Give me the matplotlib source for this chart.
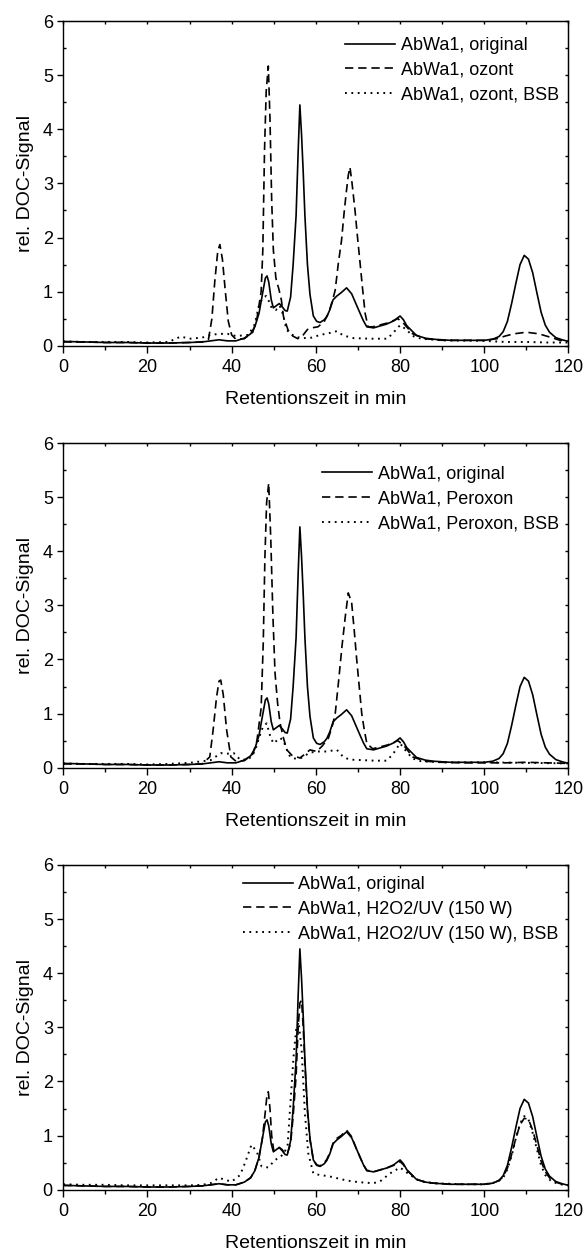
import matplotlib
matplotlib.use('Agg')
import matplotlib.pyplot as plt
from matplotlib.ticker import MultipleLocator

plt.rcParams['font.family'] = ['Liberation Sans', 'DejaVu Sans']
plt.rcParams['lines.scale_dashes'] = False

# Originalprobe (in allen drei Diagrammen gleich)
x_orig = [0, 5, 10, 15, 20, 25, 30, 33, 35, 37, 39, 41, 43, 44.5, 45.5, 46.5, 47.3, 48.0, 48.4,
          48.8, 49.4, 49.9, 50.6, 51.3, 52.0, 52.7, 53.2, 54.0, 54.6, 55.3, 55.8, 56.2, 56.6,
          57.0, 57.4, 58.0, 58.6, 59.4, 60.2, 61.0, 62.0, 62.6, 63.3, 64.1, 65.0, 66.0, 67.3,
          68.5, 69.5, 70.5, 71.3, 72.1, 73.7, 75, 76.8, 78.5, 80.0, 80.8, 81.6, 83.9, 86, 88,
          92, 96, 100, 102, 103.5, 104.5, 105.5, 106.5, 107.5, 108.5, 109.5, 110.5, 111.5,
          112.5, 113.5, 114.5, 115.5, 117, 118.5, 120]
y_orig = [0.08, 0.07, 0.06, 0.06, 0.05, 0.05, 0.06, 0.07, 0.09, 0.11, 0.09, 0.09, 0.14, 0.22,
          0.35, 0.6, 0.95, 1.25, 1.29, 1.18, 0.85, 0.7, 0.74, 0.78, 0.72, 0.65, 0.64, 0.9,
          1.5, 2.4, 3.6, 4.45, 3.9, 3.2, 2.4, 1.5, 0.95, 0.55, 0.45, 0.43, 0.48, 0.54, 0.66,
          0.85, 0.92, 0.98, 1.07, 0.96, 0.78, 0.6, 0.46, 0.35, 0.33, 0.36, 0.4, 0.46, 0.55,
          0.48, 0.37, 0.19, 0.14, 0.12, 0.1, 0.1, 0.1, 0.12, 0.17, 0.26, 0.45, 0.78, 1.15, 1.5,
          1.67, 1.6, 1.35, 0.98, 0.62, 0.38, 0.25, 0.15, 0.11, 0.08]

# ozont
x_oz = [0, 5, 10, 15, 20, 25, 30, 33, 34.5, 35.3, 36.0, 36.7, 37.2, 37.8, 38.5, 39.2, 40, 41,
        43, 45, 46, 47.0, 47.4, 47.8, 48.2, 48.7, 49.1, 49.5, 49.9, 50.5, 51.2, 51.8, 52.3,
        53.4, 54.5, 55.7, 57.0, 58.0, 59.0, 60.5, 62.0, 63.0, 64.0, 64.6, 65.3, 66.1, 66.7,
        67.2, 67.7, 68.1, 68.6, 69.3, 69.9, 70.5, 71.1, 71.7, 72.4, 73.5, 75, 77, 79.5, 81,
        83, 86, 90, 95, 100, 103, 105, 107, 110, 113, 116, 118, 120]
y_oz = [0.07, 0.07, 0.06, 0.06, 0.05, 0.05, 0.06, 0.07, 0.12, 0.5, 1.2, 1.75, 1.87, 1.6, 1.0,
        0.45, 0.2, 0.12, 0.13, 0.25, 0.5, 1.0, 1.77, 3.6, 4.7, 5.17, 4.2, 2.7, 1.77, 1.25,
        1.05, 0.85, 0.54, 0.29, 0.18, 0.13, 0.2, 0.3, 0.33, 0.35, 0.45, 0.6, 0.85, 1.03, 1.5,
        1.95, 2.45, 2.82, 3.15, 3.3, 3.0, 2.5, 2.0, 1.53, 1.05, 0.6, 0.35, 0.35, 0.38, 0.42,
        0.5, 0.4, 0.22, 0.13, 0.1, 0.1, 0.1, 0.13, 0.18, 0.22, 0.25, 0.22, 0.15, 0.1, 0.08]

# ozont, BSB
x_oz_bsb = [0, 5, 10, 15, 20, 25, 27.9, 30, 33, 35, 37, 39, 41, 44, 45.5, 46.4, 47.3, 48.2,
            48.7, 49.5, 50.5, 51.4, 52.2, 53.0, 54.0, 55.4, 57, 59, 61, 63, 65, 66.5, 69, 73,
            77, 78.5, 80, 81.5, 83, 85, 90, 100, 105, 110, 115, 120]
y_oz_bsb = [0.08, 0.07, 0.07, 0.07, 0.06, 0.07, 0.17, 0.13, 0.15, 0.2, 0.22, 0.22, 0.18, 0.2,
            0.4, 0.72, 0.88, 0.92, 0.85, 0.7, 0.66, 0.74, 0.58, 0.3, 0.22, 0.16, 0.14, 0.15,
            0.2, 0.23, 0.27, 0.19, 0.14, 0.13, 0.13, 0.25, 0.38, 0.3, 0.18, 0.13, 0.1, 0.09,
            0.07, 0.07, 0.06, 0.06]

# Peroxon
x_per = [0, 5, 10, 15, 20, 25, 30, 33, 34.8, 35.6, 36.4, 37.0, 37.4, 38.0, 38.8, 39.8, 41, 43,
         45, 46, 47.0, 47.5, 47.9, 48.3, 48.8, 49.3, 49.8, 50.3, 50.9, 51.5, 52.3, 53.1, 54.3,
         56.2, 57.4, 58.6, 60.2, 61.5, 63.0, 64.0, 64.6, 65.4, 66.2, 67.0, 67.7, 68.5, 69.1,
         69.7, 70.3, 70.9, 71.5, 72.1, 73.5, 75, 77, 79.5, 81, 83, 86, 90, 95, 100, 105, 110,
         115, 120]
y_per = [0.07, 0.07, 0.06, 0.06, 0.05, 0.05, 0.06, 0.07, 0.2, 0.7, 1.3, 1.6, 1.62, 1.35, 0.7,
         0.2, 0.12, 0.13, 0.25, 0.5, 1.1, 2.3, 3.9, 4.9, 5.26, 4.2, 2.8, 1.75, 1.2, 0.82, 0.55,
         0.33, 0.23, 0.18, 0.25, 0.33, 0.3, 0.4, 0.55, 0.8, 1.0, 1.6, 2.24, 2.8, 3.23, 3.05,
         2.55, 2.0, 1.5, 1.0, 0.7, 0.45, 0.35, 0.38, 0.42, 0.5, 0.4, 0.2, 0.12, 0.1, 0.09,
         0.09, 0.09, 0.1, 0.09, 0.08]

# Peroxon, BSB
x_per_bsb = [0, 5, 10, 15, 20, 25, 30, 33, 35, 36.5, 37.5, 39, 40.5, 42, 44, 45.5, 46.5,
             47.4, 48.3, 49.1, 49.9, 50.7, 51.5, 52.3, 53.0, 53.9, 55, 56.5, 58.6, 60.5, 62.5,
             65.0, 66.5, 68, 71, 74, 76.8, 78.3, 80, 81.5, 83, 85, 90, 100, 110, 120]
y_per_bsb = [0.08, 0.07, 0.07, 0.07, 0.06, 0.07, 0.09, 0.12, 0.14, 0.22, 0.27, 0.26, 0.27,
             0.15, 0.15, 0.3, 0.55, 0.75, 0.82, 0.6, 0.45, 0.5, 0.55, 0.5, 0.35, 0.2, 0.17,
             0.18, 0.28, 0.3, 0.3, 0.33, 0.2, 0.15, 0.14, 0.13, 0.13, 0.25, 0.45, 0.3, 0.17,
             0.12, 0.1, 0.1, 0.09, 0.08]

# H2O2/UV (150 W)
x_uv = [0, 5, 10, 15, 20, 25, 30, 33, 35, 37, 39, 41, 43, 44.5, 45.5, 46.5, 47.3, 48.0, 48.4,
        48.7, 49.1, 49.5, 50.0, 50.6, 51.3, 52.0, 52.7, 53.2, 54.0, 54.6, 55.3, 55.8, 56.2,
        56.6, 57.0, 57.4, 58.0, 58.6, 59.4, 60.2, 61.0, 62.0, 62.6, 63.3, 64.1, 65.0, 66.0,
        67.3, 68.5, 69.5, 70.5, 71.3, 72.1, 73.7, 75, 76.8, 78.5, 80.0, 80.8, 81.6, 83.9, 86,
        88, 92, 96, 100, 102, 103.5, 104.5, 105.5, 106.5, 107.5, 108.5, 109.5, 110.5, 111.5,
        112.5, 113.5, 114.5, 115.5, 117, 118.5, 120]
y_uv = [0.08, 0.07, 0.06, 0.06, 0.05, 0.05, 0.06, 0.07, 0.09, 0.11, 0.09, 0.09, 0.14, 0.22,
        0.35, 0.6, 0.95, 1.45, 1.75, 1.81, 1.5, 1.0, 0.72, 0.72, 0.78, 0.74, 0.66, 0.66, 0.85,
        1.35, 2.1, 3.0, 3.45, 3.5, 3.0, 2.3, 1.45, 0.92, 0.55, 0.46, 0.44, 0.5, 0.56, 0.68,
        0.86, 0.95, 1.0, 1.1, 0.98, 0.78, 0.6, 0.46, 0.36, 0.33, 0.36, 0.4, 0.45, 0.52, 0.46,
        0.36, 0.19, 0.14, 0.12, 0.1, 0.1, 0.1, 0.12, 0.17, 0.24, 0.4, 0.65, 0.95, 1.2, 1.32,
        1.3, 1.1, 0.82, 0.53, 0.33, 0.22, 0.14, 0.1, 0.08]

# H2O2/UV (150 W), BSB
x_uv_bsb = [0, 5, 10, 15, 20, 25, 30, 33, 35, 37, 38.5, 40, 42, 43.2, 44.7, 46.0, 47.1, 48.7,
            50.3, 51.5, 52.5, 53.3, 53.9, 54.7, 55.3, 55.9, 56.6, 57.4, 58.2, 59.4, 61, 63,
            65.7, 67.3, 70, 73.6, 75.2, 77.6, 80.0, 82.4, 84.7, 88, 95, 100, 103, 104.5,
            105.5, 106.5, 107.5, 108.5, 109.5, 110.5, 111.5, 112.5, 113.5, 114.5, 116, 118, 120]
y_uv_bsb = [0.1, 0.09, 0.09, 0.08, 0.08, 0.08, 0.08, 0.09, 0.12, 0.22, 0.18, 0.15, 0.27, 0.5,
            0.83, 0.7, 0.43, 0.41, 0.55, 0.6, 0.68, 0.83, 1.53, 2.46, 2.95, 3.1, 2.6, 1.41,
            0.67, 0.3, 0.27, 0.25, 0.2, 0.17, 0.14, 0.12, 0.15, 0.3, 0.41, 0.27, 0.16, 0.12,
            0.1, 0.1, 0.14, 0.22, 0.38, 0.62, 0.95, 1.22, 1.36, 1.3, 1.05, 0.75, 0.45, 0.27,
            0.15, 0.1, 0.08]

panels = [
    (x_oz, y_oz, 'AbWa1, ozont', x_oz_bsb, y_oz_bsb, 'AbWa1, ozont, BSB', (0.981, 0.951)),
    (x_per, y_per, 'AbWa1, Peroxon', x_per_bsb, y_per_bsb, 'AbWa1, Peroxon, BSB', (0.981, 0.93)),
    (x_uv, y_uv, 'AbWa1, H2O2/UV (150 W)', x_uv_bsb, y_uv_bsb, 'AbWa1, H2O2/UV (150 W), BSB',
     (0.981, 0.966)),
]

fig = plt.figure(figsize=(5.87, 12.6), dpi=100)
unten = [0.7256, 0.3907, 0.0558]
fs_tick = 13
fs_lab = 14

for (xd, yd, lab_d, xp, yp, lab_p, anker), b in zip(panels, unten):
    ax = fig.add_axes([0.1078, b, 0.8606, 0.2577])
    ax.plot(x_orig, y_orig, color='black', lw=1.2, label='AbWa1, original')
    ax.plot(xd, yd, color='black', lw=1.2, dashes=(6, 3.5), label=lab_d)
    ax.plot(xp, yp, color='black', lw=1.4, dashes=(1.3, 3.3), label=lab_p)

    ax.set_xlim(0, 120)
    ax.set_ylim(0, 6)
    ax.xaxis.set_major_locator(MultipleLocator(20))
    ax.xaxis.set_minor_locator(MultipleLocator(10))
    ax.yaxis.set_major_locator(MultipleLocator(1))
    ax.yaxis.set_minor_locator(MultipleLocator(0.5))
    ax.tick_params(axis='x', which='major', direction='out', length=4.8, width=1, pad=4.5,
                   labelsize=fs_tick, top=False)
    ax.tick_params(axis='x', which='minor', direction='out', length=2.8, width=1, top=False)
    ax.tick_params(axis='y', which='major', direction='out', length=4, width=1, pad=3.5,
                   labelsize=fs_tick, right=False)
    ax.tick_params(axis='y', which='minor', direction='in', length=2, width=1, right=False)
    for s in ax.spines.values():
        s.set_linewidth(1)

    # gespiegelte Achsen oben und rechts mit Ticks nach innen
    oben = ax.secondary_xaxis('top')
    oben.xaxis.set_major_locator(MultipleLocator(20))
    oben.xaxis.set_minor_locator(MultipleLocator(10))
    oben.tick_params(which='both', direction='in', length=2, width=1, labeltop=False)
    rechts = ax.secondary_yaxis('right')
    rechts.yaxis.set_major_locator(MultipleLocator(1))
    rechts.yaxis.set_minor_locator(MultipleLocator(0.5))
    rechts.tick_params(which='both', direction='in', length=2, width=1, labelright=False)

    ax.set_xlabel('Retentionszeit in min', fontsize=fs_lab, labelpad=11)
    ax.set_ylabel('rel. DOC-Signal', fontsize=fs_lab, labelpad=6.5)
    ax.legend(loc='upper right', bbox_to_anchor=anker, frameon=False, fontsize=fs_tick,
              handlelength=2.77, handletextpad=0.3, labelspacing=0.43, borderpad=0,
              borderaxespad=0)

fig.savefig('out.png', dpi=100)
